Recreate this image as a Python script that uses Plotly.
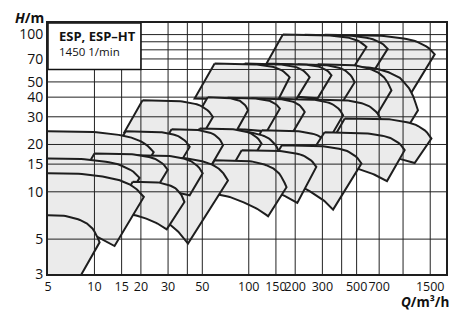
import numpy as np
import plotly.graph_objects as go

# ---- axis ticks / grid (Q in m^3/h, H in m) ----
x_ticks = [5, 10, 15, 20, 30, 50, 100, 150, 200, 300, 500, 700, 1500]
y_ticks = [3, 5, 10, 15, 20, 30, 40, 50, 70, 100]
x_grid = [10, 15, 20, 30, 40, 50, 100, 150, 200, 300, 400, 500, 700, 1000, 1500]
y_grid = [5, 10, 15, 20, 30, 40, 50, 60, 70, 80, 90, 100]
q_min, q_max = 5, 1898
h_min, h_max = 3, 118.5

# ---- pump tiles: corners top-left, top-right, bottom-right, bottom-left ----
q_tl = [310, 230.5, 166.3, 335, 279.4, 207.3, 147.6, 94.2, 60.1, 255.5, 163.8, 104, 73.0, 54.2, 20.5,
        419, 121.6, 62.9, 48.1, 31.6, 15.96, 3.8, 310, 163.8, 90.0, 60.1, 19.6, 18.2, 10.0, 3.28, 17.7, 2.82, 3.8]
h_tl = [99.7, 99.7, 100, 62.9, 64.7, 64.7, 65.1, 65.4, 65.4, 38.7, 39.0, 39.3, 39.6, 39.9, 38.2,
        29.3, 24.6, 24.3, 25.3, 25.0, 24.3, 24.4, 23.9, 19.76, 18.4, 15.9, 16.6, 17.1, 17.5, 16.4, 11.6, 13.25, 7.14]
q_tr = [1604, 795, 579, 1249, 841, 485.9, 343.6, 248, 184, 724, 408.6, 230.5, 159, 98.9, 58.6,
        1527, 335, 159, 121, 68.1, 41.4, 24.2, 1024.5, 537.4, 274, 175.7, 73.3, 50.3, 29.85, 19.6, 38.3, 20.9, 10.8]
h_tr = [74.9, 81.2, 83.4, 33.0, 44.2, 49.7, 55.1, 53.5, 53.5, 28.5, 30.7, 32.2, 33.8, 33.0, 29.9,
        21.8, 19.5, 17.5, 20.25, 19.76, 19.3, 17.9, 18.4, 15.15, 14.4, 10.7, 11.8, 13.1, 13.8, 12.27, 8.61, 9.27, 4.77]
q_br = [1104, 626, 464.6, 951, 655, 389, 279.4, 201.2, 149.8, 573, 329.4, 189.6, 131, 82.3, 46.6,
        1189, 271.2, 129, 98.5, 55.8, 33.6, 16.4, 787, 352, 206.4, 133.5, 40.4, 41.4, 21.1, 13.6, 29.4, 13.5, 6.9]
h_br = [41.1, 55.9, 59.3, 21.3, 29.3, 35.0, 39.3, 38.2, 36.0, 19.76, 21.3, 23.2, 24.3, 23.9, 20.35,
        15.25, 13.7, 12.4, 14.5, 14.1, 13.7, 9.09, 11.7, 7.70, 8.49, 6.98, 4.68, 9.5, 7.85, 6.59, 5.77, 4.52, 2.20]
q_bl = [234, 176.5, 130.4, 255.5, 214, 159, 112, 71.9, 44.6, 195.3, 125.2, 79.9, 55.8, 41.4, 15.66,
        319.6, 92.8, 48.1, 36.8, 24.2, 12.2, 2.82, 237.5, 125.2, 68.8, 45.9, 12.98, 14.0, 7.43, 2.43, 13.6, 1.95, 2.82]
h_bl = [62.9, 62.9, 65.4, 39.9, 41.1, 41.1, 41.1, 41.1, 39.2, 24.6, 25.0, 25.0, 25.3, 25.3, 24.0,
        18.4, 15.4, 15.2, 15.9, 15.9, 15.9, 15.4, 15.9, 12.55, 11.6, 10.07, 9.09, 10.8, 10.66, 10.2, 7.41, 7.41, 3.16]

# typical curve shape (fraction of the head drop vs. fraction of the log-Q span)
top_t = [0, 0.3, 0.5, 0.65, 0.8, 0.9, 0.95, 1.0]
top_f = [0, 0.01, 0.04, 0.12, 0.27, 0.5, 0.7, 1.0]
bot_t = [0, 0.25, 0.5, 0.75, 0.9, 1.0]
bot_f = [0, 0.08, 0.25, 0.55, 0.78, 1.0]

FILL = '#ebebeb'
EDGE = '#1e1e1e'
FONT = 'Open Sans'


def arc(q0, h0, q1, h1, pt, pf, n=40):
    t = np.linspace(0, 1, n)
    f = np.interp(t, pt, pf)
    lx = np.log10(q0) + t * (np.log10(q1) - np.log10(q0))
    ly = np.log10(h0) + f * (np.log10(h1) - np.log10(h0))
    return 10 ** lx, 10 ** ly


fig = go.Figure()
for i in range(len(q_tl)):
    tx, ty = arc(q_tl[i], h_tl[i], q_tr[i], h_tr[i], top_t, top_f)
    bx, by = arc(q_bl[i], h_bl[i], q_br[i], h_br[i], bot_t, bot_f)
    xs = list(tx) + list(bx[::-1]) + [tx[0]]
    ys = list(ty) + list(by[::-1]) + [ty[0]]
    fig.add_trace(go.Scatter(x=xs, y=ys, mode='lines', fill='toself', fillcolor=FILL,
                             line=dict(color=EDGE, width=2), hoverinfo='skip', showlegend=False))

# grid lines drawn above the tiles
gx, gy = [], []
for v in x_grid:
    gx += [v, v, None]
    gy += [h_min, h_max, None]
for v in y_grid:
    gx += [q_min, q_max, None]
    gy += [v, v, None]
fig.add_trace(go.Scatter(x=gx, y=gy, mode='lines', line=dict(color='#222', width=1),
                         hoverinfo='skip', showlegend=False))

# white title box in the upper-left corner
fig.add_trace(go.Scatter(x=[5, 20, 20, 5, 5], y=[60, 60, h_max, h_max, 60], mode='lines', fill='toself',
                         fillcolor='white', line=dict(color='#111', width=1.5),
                         hoverinfo='skip', showlegend=False))

W, H = 456, 313
L, R, T, B = 48, 10, 23, 39
pw, ph = W - L - R, H - T - B


def px(x):
    return (x - L) / pw


def py(y):
    return (H - B - y) / ph


fig.update_layout(
    width=W, height=H, margin=dict(l=L, r=R, t=T, b=B, autoexpand=False),
    paper_bgcolor='white', plot_bgcolor='white',
    xaxis=dict(type='log', range=[np.log10(q_min), np.log10(q_max)], showgrid=False, zeroline=False,
               showline=True, mirror=True, linecolor=EDGE, linewidth=2, ticks='', automargin=False,
               tickangle=0, tickvals=x_ticks, ticktext=[str(v) for v in x_ticks],
               tickfont=dict(family=FONT, size=12.5, color='#111')),
    yaxis=dict(type='log', range=[np.log10(h_min), np.log10(h_max)], showgrid=False, zeroline=False,
               showline=True, mirror=True, linecolor=EDGE, linewidth=2, ticks='', automargin=False,
               tickvals=y_ticks, ticktext=[str(v) for v in y_ticks],
               tickfont=dict(family=FONT, size=14, color='#111')),
    annotations=[
        dict(text='<b>ESP, ESP–HT</b>', x=px(57), y=py(36), xref='paper', yref='paper',
             xanchor='left', yanchor='middle', showarrow=False, font=dict(family=FONT, size=13, color='#111')),
        dict(text='1450 1/min', x=px(57), y=py(51.5), xref='paper', yref='paper',
             xanchor='left', yanchor='middle', showarrow=False, font=dict(family=FONT, size=11.5, color='#111')),
        dict(text='<b><i>H</i>/m</b>', x=px(13), y=py(17), xref='paper', yref='paper',
             xanchor='left', yanchor='middle', showarrow=False, font=dict(family=FONT, size=14, color='#111')),
        dict(text='<b><i>Q</i>/m³/h</b>', x=px(399), y=py(302), xref='paper', yref='paper',
             xanchor='left', yanchor='middle', showarrow=False, font=dict(family=FONT, size=13.5, color='#111')),
        dict(text='<b><i>H</i>/</b>', x=px(16), y=py(319), xref='paper', yref='paper',
             xanchor='left', yanchor='middle', showarrow=False, font=dict(family=FONT, size=14, color='#111')),
    ],
)

fig.write_html('out.html', config={'displayModeBar': False},
               post_script="document.body.style.margin='0';document.body.style.overflow='hidden';")
